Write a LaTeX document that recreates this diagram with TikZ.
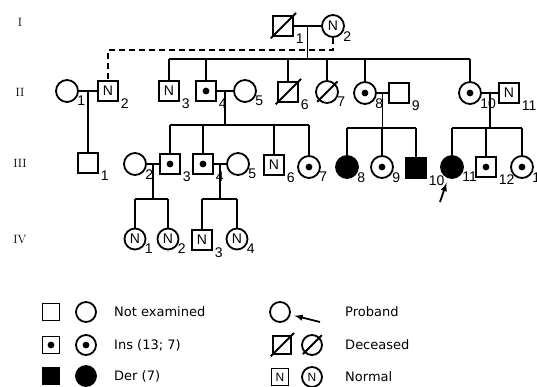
\documentclass[tikz,border=0pt]{standalone}
\usepackage{fontspec}
\usepackage{tikz}
\usetikzlibrary{arrows}
\newfontfamily\numfont{Liberation Sans}
\newfontfamily\legfont{DejaVu Sans}

\begin{document}
\begin{tikzpicture}[x=1pt,y=-1pt,line width=1.8pt,
  male/.style={draw,rectangle,minimum size=20pt,inner sep=0pt},
  female/.style={draw,circle,minimum size=22pt,inner sep=0pt},
  ins/.style={path picture={\fill (path picture bounding box.center) circle (3.4pt);}},
  der/.style={fill=black},
  nrm/.style={font=\numfont\fontsize{14}{14}\selectfont},
  dead/.style={append after command={(\tikzlastnode.south west) edge[shorten <=-2pt,shorten >=-3pt] (\tikzlastnode.north east)}},
  numlab/.style={font=\numfont\fontsize{14}{14}\selectfont,inner sep=0pt,anchor=north west,xshift=1pt,yshift=4pt},
  genlab/.style={font=\fontsize{12}{12}\selectfont},
  legtext/.style={font=\legfont\fontsize{13}{13}\selectfont,anchor=west}]
\useasboundingbox (0,0) rectangle (537,387);
% generation numbers
\node[genlab] (gI) at (20,22) {I};
\node[genlab] (gII) at (20,92) {II};
\node[genlab] (gIII) at (20,163) {III};
\node[genlab] (gIV) at (20,240) {IV};
% generation I
\node[male,dead,label={[numlab]south east:1}] (I1) at (283,26) {};
\node[female,nrm,label={[numlab]south east:2}] (I2) at (333,26) {N};
\draw (I1) -- coordinate (m1) (I2);
\draw (m1) -- ++(0,33) coordinate (s1);
% generation II
\node[female,label={[numlab]south east:1}] (II1) at (67,91) {};
\node[male,nrm,label={[numlab]south east:2}] (II2) at (108,91) {N};
\node[male,nrm,label={[numlab]south east:3}] (II3) at (169,91) {N};
\node[male,ins,label={[numlab]south east:4}] (II4) at (206,91) {};
\node[female,label={[numlab]south east:5}] (II5) at (245,91) {};
\node[male,dead,label={[numlab]south east:6}] (II6) at (288,92) {};
\node[female,dead,label={[numlab]south east:7}] (II7) at (327,92) {};
\node[female,ins,label={[numlab]south east:8}] (II8) at (365,93) {};
\node[male,label={[numlab]south east:9}] (II9) at (399,93) {};
\node[female,ins,label={[numlab]south east:10}] (II10) at (470,93) {};
\node[male,nrm,label={[numlab]south east:11}] (II11) at (509,93) {N};
\draw (II3.north |- s1) -- (II10.north |- s1);
\foreach \c in {II3,II4,II6,II7,II8,II10}
  \draw (\c.north) -- (\c.north |- s1);
\draw[dash pattern=on 6pt off 4pt] (I2.south) -- ++(0,12) -| (II2.north);
% generation III
\node[male,label={[numlab]south east:1}] (III1) at (88,163) {};
\node[female,label={[numlab]south east:2}] (III2) at (135,164) {};
\node[male,ins,label={[numlab]south east:3}] (III3) at (170,164) {};
\node[male,ins,label={[numlab]south east:4}] (III4) at (203,164) {};
\node[female,label={[numlab]south east:5}] (III5) at (238,164) {};
\node[male,nrm,label={[numlab]south east:6}] (III6) at (274,165) {N};
\node[female,ins,label={[numlab]south east:7}] (III7) at (309,167) {};
\node[female,der,label={[numlab]south east:8}] (III8) at (347,167) {};
\node[female,ins,label={[numlab]south east:9}] (III9) at (382,167) {};
\node[male,der,label={[numlab]south east:10}] (III10) at (416,168) {};
\node[female,der,label={[numlab]south east:11}] (III11) at (452,167) {};
\node[male,ins,label={[numlab]south east:12}] (III12) at (486,167) {};
\node[female,ins,label={[numlab]south east:13}] (III13) at (522,167) {};
\draw (II1) -- coordinate (m2) (II2);
\draw (m2) -- (m2 |- III1.north);
\draw (II4) -- coordinate (m3) (II5);
\draw (m3) -- ++(0,34) coordinate (s3);
\draw (III3.north |- s3) -- (III7.north |- s3);
\foreach \c in {III3,III4,III6,III7}
  \draw (\c.north) -- (\c.north |- s3);
\draw (II8) -- coordinate (m4) (II9);
\draw (m4) -- ++(0,35) coordinate (s4);
\draw (III8.north |- s4) -- (III10.north |- s4);
\foreach \c in {III8,III9,III10}
  \draw (\c.north) -- (\c.north |- s4);
\draw (II10) -- coordinate (m5) (II11);
\draw (m5) -- ++(0,35) coordinate (s5);
\draw (III11.north |- s5) -- (III13.north |- s5);
\foreach \c in {III11,III12,III13}
  \draw (\c.north) -- (\c.north |- s5);
\coordinate (pb) at (440,202);
\draw[-latex,shorten >=5pt] (pb) -- (III11);
% generation IV
\node[female,nrm,minimum size=21pt,label={[numlab]south east:1}] (IV1) at (135,239) {N};
\node[female,nrm,minimum size=21pt,label={[numlab]south east:2}] (IV2) at (168,239) {N};
\node[male,nrm,label={[numlab]south east:3}] (IV3) at (202,240) {N};
\node[female,nrm,minimum size=21pt,label={[numlab]south east:4}] (IV4) at (237,239) {N};
\draw (III2) -- coordinate (m6) (III3);
\draw (m6) -- ++(0,35) coordinate (s6);
\draw (IV1.north |- s6) -- (IV2.north |- s6);
\foreach \c in {IV1,IV2}
  \draw (\c.north) -- (\c.north |- s6);
\draw (III4) -- coordinate (m7) (III5);
\draw (m7) -- ++(0,35) coordinate (s7);
\draw (IV3.north |- s7) -- (IV4.north |- s7);
\foreach \c in {IV3,IV4}
  \draw (\c.north) -- (\c.north |- s7);
% key
\node[male,minimum size=17pt] (Lm1) at (51,312) {};
\node[female,minimum size=20pt] (Lf1) at (86,312) {};
\node[legtext] (T1) at (110,312) {Not examined};
\node[male,ins,minimum size=17pt] (Lm2) at (51,345) {};
\node[female,ins,minimum size=20pt] (Lf2) at (86,345) {};
\node[legtext] (T2) at (110,345) {Ins (13; 7)};
\node[male,der,minimum size=17pt] (Lm3) at (51,376) {};
\node[female,der,minimum size=20pt] (Lf3) at (86,376) {};
\node[legtext] (T3) at (110,376) {Der (7)};
\node[female,minimum size=20pt] (Lp) at (280,312) {};
\coordinate (la) at (320,322);
\draw[-latex,shorten >=4pt] (la) -- (Lp);
\node[legtext] (T4) at (341,312) {Proband};
\node[male,dead,minimum size=18pt] (Lm5) at (282,345) {};
\node[female,dead,minimum size=20pt] (Lf5) at (312,345) {};
\node[legtext] (T5) at (341,345) {Deceased};
\node[male,nrm,minimum size=17pt,font=\numfont\fontsize{12}{12}\selectfont] (Lm6) at (280,377) {N};
\node[female,nrm,minimum size=20pt,font=\numfont\fontsize{12}{12}\selectfont] (Lf6) at (312,377) {N};
\node[legtext] (T6) at (341,377) {Normal};
\end{tikzpicture}
\end{document}
